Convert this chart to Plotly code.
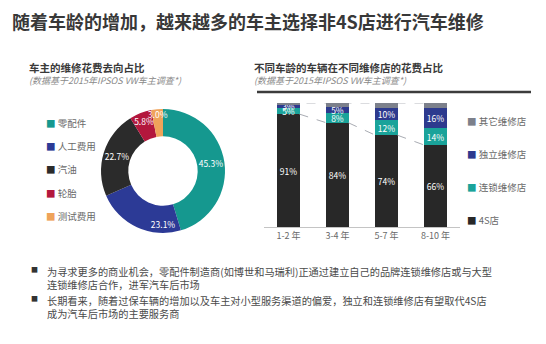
import plotly.graph_objects as go

# ---- data ----
cost_labels = ["零配件", "人工费用", "汽油", "轮胎", "测试费用"]
cost_shares = [45.3, 23.1, 22.7, 5.8, 3.0]
cost_colors = ["#15988f", "#2c3a96", "#2b2b2b", "#b3173d", "#efa35a"]

age_groups = ["1-2 年", "3-4 年", "5-7 年", "8-10 年"]
shop_names = ["4S店", "连锁维修店", "独立维修店", "其它维修店"]
shop_values = {
    "4S店": [91, 84, 74, 66],
    "连锁维修店": [5, 8, 12, 14],
    "独立维修店": [3, 5, 10, 16],
    "其它维修店": [1, 3, 4, 4],
}
shop_colors = {
    "4S店": "#282828",
    "连锁维修店": "#1aa39a",
    "独立维修店": "#2d3a8e",
    "其它维修店": "#7c808b",
}
labelled_shops = ["4S店", "连锁维修店", "独立维修店"]

title_text = "随着车龄的增加，越来越多的车主选择非4S店进行汽车维修"
left_title = "车主的维修花费去向占比"
right_title = "不同车龄的车辆在不同维修店的花费占比"
source_note = "(数据基于2015年IPSOS VW车主调查*)"
bullets = [
    "为寻求更多的商业机会，零配件制造商(如博世和马瑞利)正通过建立自己的品牌连锁维修店或与大型<br>连锁维修店合作，进军汽车后市场",
    "长期看来，随着过保车辆的增加以及车主对小型服务渠道的偏爱，独立和连锁维修店有望取代4S店<br>成为汽车后市场的主要服务商",
]

FONT = "Noto Sans CJK SC, sans-serif"
W, H = 546, 344
BAR_W = 0.45


def px(x):
    return x / W


def py(y):
    return 1 - y / H


fig = go.Figure()

# ---- donut: spending breakdown ----
fig.add_trace(go.Pie(
    labels=cost_labels,
    values=cost_shares,
    text=[f"{v:.1f}%" for v in cost_shares],
    textinfo="text",
    textposition="inside",
    insidetextorientation="horizontal",
    textfont=dict(color="white", size=9, family=FONT),
    marker=dict(colors=cost_colors, line=dict(width=0)),
    hole=0.56,
    sort=False,
    direction="clockwise",
    rotation=0,
    showlegend=False,
    domain=dict(x=[px(101), px(225)], y=[py(233), py(109)]),
))

# ---- stacked bars: spending by shop type and vehicle age ----
xs = list(range(len(age_groups)))
for name in shop_names:
    vals = shop_values[name]
    fig.add_trace(go.Bar(
        x=xs,
        y=vals,
        name=name,
        width=BAR_W,
        marker=dict(color=shop_colors[name], line=dict(width=0)),
        text=[f"{v}%" for v in vals] if name in labelled_shops else None,
        textposition="inside" if name in labelled_shops else "none",
        insidetextanchor="middle",
        textangle=0,
        textfont=dict(color="white", size=8.5, family=FONT),
        showlegend=False,
        xaxis="x",
        yaxis="y",
    ))

# dashed connector between the 4S share at neighbouring bars
four_s = shop_values["4S店"]
lx, ly = [], []
for i in range(len(four_s) - 1):
    lx += [xs[i] + BAR_W / 2, xs[i + 1] - BAR_W / 2, None]
    ly += [four_s[i], four_s[i + 1], None]
fig.add_trace(go.Scatter(
    x=lx, y=ly, mode="lines",
    line=dict(color="#a9acb3", width=1, dash="dash"),
    showlegend=False, hoverinfo="skip",
))

# dashed line along the 100% level
fig.add_shape(type="line", xref="x", yref="y",
              x0=xs[0], x1=xs[-1], y0=100, y1=100,
              line=dict(color="#b8bac0", width=1, dash="dash"), layer="below")

annotations = []

# headline
annotations.append(dict(
    text=f"<b>{title_text}</b>", x=px(10), y=py(21), xref="paper", yref="paper",
    xanchor="left", yanchor="middle", showarrow=False,
    font=dict(size=18, color="#383838", family=FONT)))

# panel headers
for x0, head in [(27, left_title), (252, right_title)]:
    annotations.append(dict(
        text=f"<b>{head}</b>", x=px(x0), y=py(67), xref="paper", yref="paper",
        xanchor="left", yanchor="middle", showarrow=False,
        font=dict(size=10.5, color="#3a3a3a", family=FONT)))
    annotations.append(dict(
        text=f"<i>{source_note}</i>", x=px(x0), y=py(81), xref="paper", yref="paper",
        xanchor="left", yanchor="middle", showarrow=False,
        font=dict(size=9, color="#8a8a8a", family=FONT)))

shapes = [
    dict(type="line", xref="paper", yref="paper", x0=px(25), x1=px(238),
         y0=py(92), y1=py(92), line=dict(color="#3c3c3c", width=2.5)),
    dict(type="line", xref="paper", yref="paper", x0=px(257), x1=px(531),
         y0=py(92), y1=py(92), line=dict(color="#3c3c3c", width=2.5)),
]

# donut legend
for i, (lab, col) in enumerate(zip(cost_labels, cost_colors)):
    yy = 123 + i * 23.2
    annotations.append(dict(
        text=f"<span style='color:{col}'>■</span> {lab}", x=px(44), y=py(yy),
        xref="paper", yref="paper", xanchor="left", yanchor="middle",
        showarrow=False, font=dict(size=9.5, color="#6a6a6a", family=FONT)))

# bar legend (top entry is the top segment)
for i, name in enumerate(reversed(shop_names)):
    yy = 121 + i * 33
    annotations.append(dict(
        text=f"<span style='color:{shop_colors[name]}'>■</span> {name}", x=px(465), y=py(yy),
        xref="paper", yref="paper", xanchor="left", yanchor="middle",
        showarrow=False, font=dict(size=9.5, color="#6a6a6a", family=FONT)))

# bullet notes
for i, b in enumerate(bullets):
    yy = 269 + i * 29
    annotations.append(dict(
        text="■", x=px(29), y=py(yy), xref="paper", yref="paper",
        xanchor="left", yanchor="middle", showarrow=False,
        font=dict(size=7, color="#333333", family=FONT)))
    annotations.append(dict(
        text=b, x=px(45), y=py(yy - 7), xref="paper", yref="paper",
        xanchor="left", yanchor="top", align="left", showarrow=False,
        font=dict(size=10.2, color="#4a4a4a", family=FONT)))

fig.update_layout(
    width=W, height=H,
    margin=dict(l=0, r=0, t=0, b=0),
    paper_bgcolor="white", plot_bgcolor="white",
    barmode="stack",
    bargap=0,
    font=dict(family=FONT),
    uniformtext=dict(minsize=8.5, mode="show"),
    annotations=annotations,
    shapes=shapes,
    xaxis=dict(
        domain=[px(264), px(460)], range=[-0.5, len(age_groups) - 0.5],
        tickvals=xs, ticktext=age_groups,
        tickfont=dict(size=9, color="#6a6a6a", family=FONT),
        showgrid=False, zeroline=False, showline=True, linecolor="#c4c4c4", linewidth=1,
        ticks="", fixedrange=True,
    ),
    yaxis=dict(
        domain=[py(227), py(103)], range=[0, 100],
        showticklabels=False, showgrid=False, zeroline=False, showline=False,
        fixedrange=True,
    ),
)

fig.write_html("out.html")
